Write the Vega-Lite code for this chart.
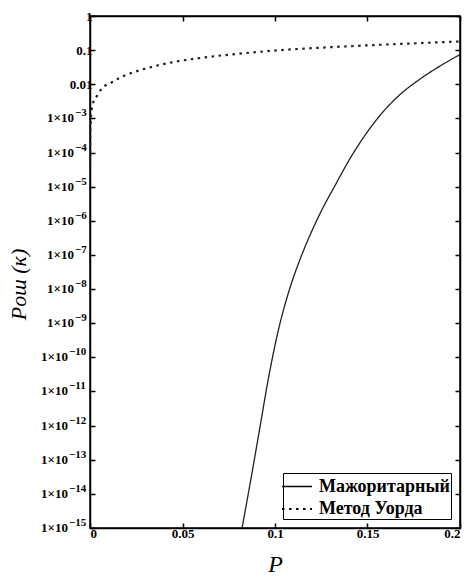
{
  "$schema": "https://vega.github.io/schema/vega-lite/v6.json",
  "width": 370,
  "height": 512,
  "autosize": "none",
  "padding": {"left": 90, "top": 16, "right": 12, "bottom": 49},
  "background": "white",
  "config": {
    "view": {"stroke": "black", "strokeWidth": 1.5},
    "axis": {
      "domainColor": "black", "domainWidth": 1.5,
      "tickColor": "black", "tickWidth": 1.5, "tickSize": -5,
      "labelFont": "Liberation Serif", "labelFontSize": 13, "labelColor": "black", "labelFontWeight": "bold",
      "titleFont": "Liberation Serif", "titleColor": "black", "titleFontStyle": "italic", "titleFontWeight": "normal",
      "grid": false
    },
    "legend": {
      "labelFont": "Liberation Serif", "labelFontSize": 18, "labelColor": "black", "labelFontWeight": "bold"
    }
  },
  "datasets": {
    "curves": [
      {"p": 0.0822, "P": 1e-15, "method": "Мажоритарный"},
      {"p": 0.0870, "P": 2.75e-14, "method": "Мажоритарный"},
      {"p": 0.0916, "P": 7.4e-13, "method": "Мажоритарный"},
      {"p": 0.0962, "P": 2.04e-11, "method": "Мажоритарный"},
      {"p": 0.1016, "P": 5.6e-10, "method": "Мажоритарный"},
      {"p": 0.1076, "P": 8.9e-9, "method": "Мажоритарный"},
      {"p": 0.1141, "P": 8.9e-8, "method": "Мажоритарный"},
      {"p": 0.1205, "P": 5.9e-7, "method": "Мажоритарный"},
      {"p": 0.1259, "P": 2.4e-6, "method": "Мажоритарный"},
      {"p": 0.1324, "P": 1.07e-5, "method": "Мажоритарный"},
      {"p": 0.1405, "P": 6.6e-5, "method": "Мажоритарный"},
      {"p": 0.1496, "P": 3.8e-4, "method": "Мажоритарный"},
      {"p": 0.1585, "P": 1.58e-3, "method": "Мажоритарный"},
      {"p": 0.1676, "P": 5.0e-3, "method": "Мажоритарный"},
      {"p": 0.1784, "P": 0.0142, "method": "Мажоритарный"},
      {"p": 0.1892, "P": 0.0342, "method": "Мажоритарный"},
      {"p": 0.2, "P": 0.0743, "method": "Мажоритарный"},
      {"p": 0.00002, "P": 4e-5, "method": "Метод Уорда"},
      {"p": 0.0001, "P": 2e-4, "method": "Метод Уорда"},
      {"p": 0.0003, "P": 6e-4, "method": "Метод Уорда"},
      {"p": 0.0009, "P": 1.8e-3, "method": "Метод Уорда"},
      {"p": 0.002, "P": 3.2e-3, "method": "Метод Уорда"},
      {"p": 0.0036, "P": 4.4e-3, "method": "Метод Уорда"},
      {"p": 0.0064, "P": 7.6e-3, "method": "Метод Уорда"},
      {"p": 0.0109, "P": 0.0107, "method": "Метод Уорда"},
      {"p": 0.0172, "P": 0.0166, "method": "Метод Уорда"},
      {"p": 0.0245, "P": 0.0234, "method": "Метод Уорда"},
      {"p": 0.0335, "P": 0.0324, "method": "Метод Уорда"},
      {"p": 0.0444, "P": 0.044, "method": "Метод Уорда"},
      {"p": 0.0607, "P": 0.06, "method": "Метод Уорда"},
      {"p": 0.08, "P": 0.078, "method": "Метод Уорда"},
      {"p": 0.103, "P": 0.1, "method": "Метод Уорда"},
      {"p": 0.125, "P": 0.118, "method": "Метод Уорда"},
      {"p": 0.15, "P": 0.138, "method": "Метод Уорда"},
      {"p": 0.175, "P": 0.158, "method": "Метод Уорда"},
      {"p": 0.2, "P": 0.18, "method": "Метод Уорда"}
    ],
    "ticks": [
      {"tick": 1e-3, "exp": "−3"},
      {"tick": 1e-4, "exp": "−4"},
      {"tick": 1e-5, "exp": "−5"},
      {"tick": 1e-6, "exp": "−6"},
      {"tick": 1e-7, "exp": "−7"},
      {"tick": 1e-8, "exp": "−8"},
      {"tick": 1e-9, "exp": "−9"},
      {"tick": 1e-10, "exp": "−10"},
      {"tick": 1e-11, "exp": "−11"},
      {"tick": 1e-12, "exp": "−12"},
      {"tick": 1e-13, "exp": "−13"},
      {"tick": 1e-14, "exp": "−14"},
      {"tick": 1e-15, "exp": "−15"}
    ]
  },
  "layer": [
    {
      "data": {"name": "curves"},
      "mark": {"type": "line", "clip": true, "interpolate": "monotone", "color": "#222"},
      "encoding": {
        "x": {
          "field": "p", "type": "quantitative",
          "scale": {"domain": [0, 0.2], "nice": false, "zero": false},
          "axis": {"orient": "bottom", "values": [0, 0.05, 0.1, 0.15, 0.2], "format": ".2~f", "title": "P", "titleFontSize": 24, "titlePadding": 12, "labelPadding": 4}
        },
        "y": {
          "field": "P", "type": "quantitative",
          "scale": {"type": "log", "domain": [1e-15, 1], "nice": false},
          "axis": {
            "orient": "left",
            "values": [1, 0.1, 0.01, 1e-3, 1e-4, 1e-5, 1e-6, 1e-7, 1e-8, 1e-9, 1e-10, 1e-11, 1e-12, 1e-13, 1e-14, 1e-15],
            "labelExpr": "datum.value > 0.005 ? format(datum.value, '~g') : ''",
            "labelPadding": 3,
            "title": "Pош (к)", "titleFontSize": 22, "titleX": -60, "titleY": 268, "titleAngle": 270, "titleAlign": "center", "titleBaseline": "bottom"
          }
        },
        "strokeDash": {
          "field": "method", "type": "nominal",
          "scale": {"domain": ["Мажоритарный", "Метод Уорда"], "range": [[1, 0], [2.5, 4.5]]},
          "legend": {
            "title": null, "orient": "bottom-right", "offset": 9,
            "fillColor": "white", "strokeColor": "black", "padding": 1,
            "symbolType": "M-1.3,0H1.3", "symbolSize": 529, "symbolStrokeColor": "black", "symbolStrokeWidth": 1.5,
            "symbolFillColor": "transparent",
            "rowPadding": 0, "labelOffset": 9
          }
        },
        "strokeWidth": {
          "field": "method", "type": "nominal",
          "scale": {"domain": ["Мажоритарный", "Метод Уорда"], "range": [1.3, 2.2]},
          "legend": null
        }
      }
    },
    {
      "data": {"name": "curves"},
      "mark": {"type": "point", "opacity": 0},
      "encoding": {
        "x": {
          "field": "p", "type": "quantitative",
          "axis": {"orient": "top", "values": [0, 0.05, 0.1, 0.15, 0.2], "labels": false, "title": null}
        },
        "y": {
          "field": "P", "type": "quantitative",
          "axis": {"orient": "right", "values": [1, 0.1, 0.01, 1e-3, 1e-4, 1e-5, 1e-6, 1e-7, 1e-8, 1e-9, 1e-10, 1e-11, 1e-12, 1e-13, 1e-14, 1e-15], "labels": false, "title": null}
        }
      }
    },
    {
      "data": {"name": "ticks"},
      "transform": [{"filter": "length(datum.exp) == 2"}],
      "mark": {"type": "text", "text": "1×10", "align": "right", "baseline": "middle", "dx": -16, "font": "Liberation Serif", "fontSize": 13, "fontWeight": "bold", "color": "black"},
      "encoding": {
        "x": {"datum": 0, "type": "quantitative", "axis": null},
        "y": {"field": "tick", "type": "quantitative", "axis": null}
      }
    },
    {
      "data": {"name": "ticks"},
      "transform": [{"filter": "length(datum.exp) == 2"}],
      "mark": {"type": "text", "align": "left", "baseline": "middle", "dx": -15, "dy": -5, "font": "Liberation Serif", "fontSize": 11, "fontWeight": "bold", "color": "black"},
      "encoding": {
        "x": {"datum": 0, "type": "quantitative", "axis": null},
        "y": {"field": "tick", "type": "quantitative", "axis": null},
        "text": {"field": "exp"}
      }
    },
    {
      "data": {"name": "ticks"},
      "transform": [{"filter": "length(datum.exp) == 3"}],
      "mark": {"type": "text", "text": "1×10", "align": "right", "baseline": "middle", "dx": -22, "font": "Liberation Serif", "fontSize": 13, "fontWeight": "bold", "color": "black"},
      "encoding": {
        "x": {"datum": 0, "type": "quantitative", "axis": null},
        "y": {"field": "tick", "type": "quantitative", "axis": null}
      }
    },
    {
      "data": {"name": "ticks"},
      "transform": [{"filter": "length(datum.exp) == 3"}],
      "mark": {"type": "text", "align": "left", "baseline": "middle", "dx": -21, "dy": -5, "font": "Liberation Serif", "fontSize": 11, "fontWeight": "bold", "color": "black"},
      "encoding": {
        "x": {"datum": 0, "type": "quantitative", "axis": null},
        "y": {"field": "tick", "type": "quantitative", "axis": null},
        "text": {"field": "exp"}
      }
    }
  ],
  "resolve": {"axis": {"x": "independent", "y": "independent"}}
}
